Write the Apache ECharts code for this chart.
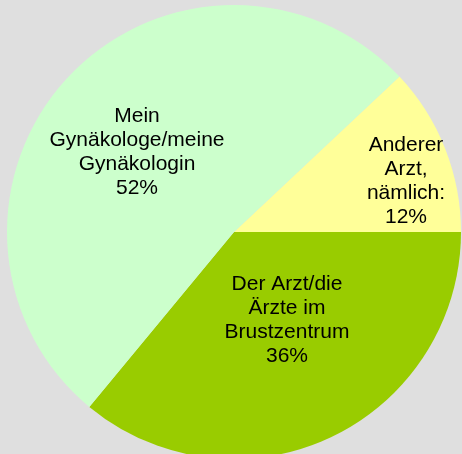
<!DOCTYPE html>
<html>
<head>
<meta charset="utf-8">
<script src="https://cdn.jsdelivr.net/npm/echarts@6/dist/echarts.min.js"></script>
<style>
html,body{margin:0;padding:0;background:#dfdfdf;}
#chart{width:462px;height:454px;}
</style>
</head>
<body>
<div id="chart"></div>
<script>
var categories = ['Anderer\nArzt,\nnämlich:', 'Der Arzt/die\nÄrzte im\nBrustzentrum', 'Mein\nGynäkologe/meine\nGynäkologin'];
var values = [12, 36, 52];
var colors = ['#ffff99', '#99cc00', '#ccffcc'];
// label anchor positions (layout only)
var labelPos = [[406, 181], [287, 320], [137, 152]];

var chart = echarts.init(document.getElementById('chart'), null, {renderer: 'canvas'});
var data = categories.map(function (c, i) {
  return {name: c, value: values[i], itemStyle: {color: colors[i]}};
});
chart.setOption({
  backgroundColor: '#dfdfdf',
  animation: false,
  series: [{
    type: 'pie',
    center: [234, 232],
    radius: 227,
    startAngle: 43.2,
    clockwise: true,
    avoidLabelOverlap: false,
    silent: true,
    data: data,
    itemStyle: {borderWidth: 0},
    label: {
      show: true,
      position: 'inside',
      formatter: function (p) { return p.name + '\n' + p.value + '%'; },
      color: '#000',
      fontFamily: '"Liberation Sans", Arial, sans-serif',
      fontSize: 21,
      lineHeight: 24,
      align: 'center',
      verticalAlign: 'middle'
    },
    labelLine: {show: false},
    labelLayout: function (p) {
      var pos = labelPos[p.dataIndex];
      return {x: pos[0], y: pos[1], align: 'center', verticalAlign: 'middle'};
    }
  }]
});
</script>
</body>
</html>
